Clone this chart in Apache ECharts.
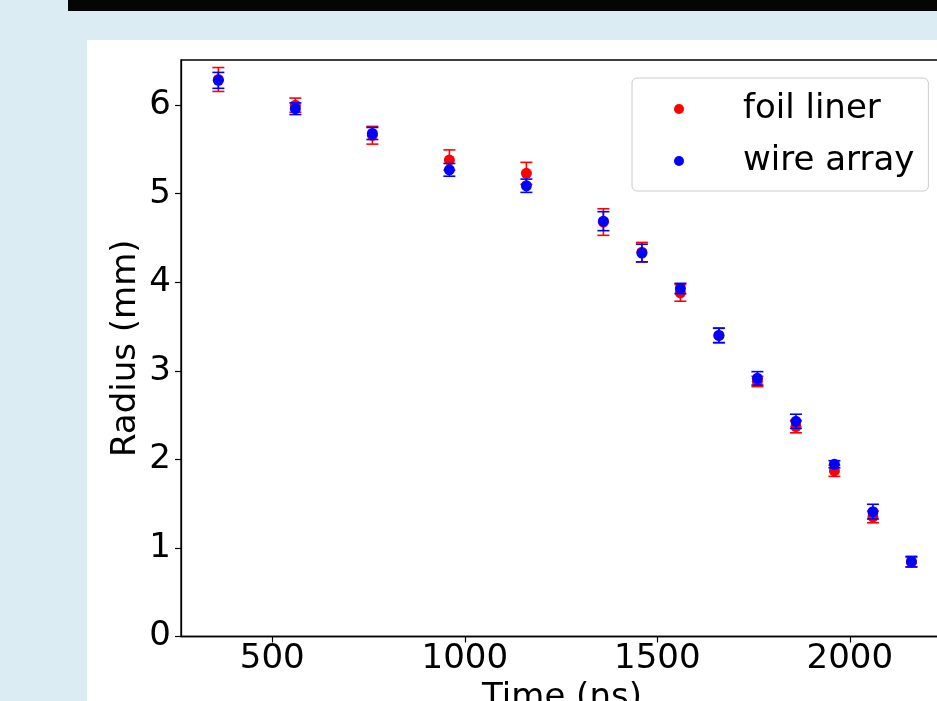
<!DOCTYPE html>
<html>
<head>
<meta charset="utf-8">
<script src="https://cdn.jsdelivr.net/npm/echarts@6/dist/echarts.min.js"></script>
<style>
html,body{margin:0;padding:0;background:#dbedf3;}
#c{width:937px;height:701px;}
</style>
</head>
<body>
<div id="c"></div>
<script>
const times = [360, 560, 760, 960, 1160, 1360, 1460, 1560, 1660, 1760, 1860, 1960, 2060, 2160];
const foilRadius = [6.29, 6.00, 5.66, 5.38, 5.23, 4.68, 4.34, 3.88, 3.40, 2.88, 2.37, 1.87, 1.35, 0.84];
const foilErr = [0.135, 0.08, 0.10, 0.115, 0.124, 0.15, 0.11, 0.094, 0.085, 0.058, 0.07, 0.062, 0.066, 0.053];
const wireRadius = [6.28, 5.96, 5.68, 5.27, 5.09, 4.69, 4.33, 3.93, 3.40, 2.915, 2.43, 1.945, 1.41, 0.845];
const wireErr = [0.09, 0.066, 0.068, 0.072, 0.075, 0.107, 0.10, 0.058, 0.08, 0.076, 0.08, 0.04, 0.083, 0.06];
const xTicks = [500, 1000, 1500, 2000];
const yTicks = [0, 1, 2, 3, 4, 5, 6];
const seriesNames = ['foil liner', 'wire array'];

const FONT = 'DejaVu Sans';
const chart = echarts.init(document.getElementById('c'), null, {renderer: 'canvas'});

function errData(vals, errs) {
  return times.map((t, i) => [t, vals[i] - errs[i], vals[i] + errs[i]]);
}
function errRender(color) {
  return function (params, api) {
    const x = api.value(0);
    const lo = api.coord([x, api.value(1)]);
    const hi = api.coord([x, api.value(2)]);
    const cw = 6;
    const st = {stroke: color, lineWidth: 1.6};
    return {
      type: 'group',
      children: [
        {type: 'line', shape: {x1: hi[0], y1: hi[1], x2: lo[0], y2: lo[1]}, style: st},
        {type: 'line', shape: {x1: hi[0] - cw, y1: hi[1], x2: hi[0] + cw, y2: hi[1]}, style: st},
        {type: 'line', shape: {x1: lo[0] - cw, y1: lo[1], x2: lo[0] + cw, y2: lo[1]}, style: st}
      ]
    };
  };
}

const option = {
  backgroundColor: '#dbedf3',
  animation: false,
  graphic: [
    {type: 'rect', z: -10, shape: {x: 68, y: 0, width: 869, height: 11}, style: {fill: '#050505'}},
    {type: 'rect', z: -10, shape: {x: 87, y: 40, width: 850, height: 661}, style: {fill: '#ffffff'}}
  ],
  grid: {
    left: 181, top: 60, right: -6, bottom: 64.5,
    outerBoundsMode: 'none', containLabel: false,
    show: true, backgroundColor: '#ffffff', borderColor: '#000000', borderWidth: 1.3
  },
  legend: {
    data: seriesNames,
    orient: 'vertical',
    left: 632, top: 78,
    padding: [11, 14, 10, 42],
    itemGap: 12,
    itemWidth: 10, itemHeight: 10,
    icon: 'circle',
    backgroundColor: 'rgba(255,255,255,0.8)',
    borderColor: '#cccccc', borderWidth: 1, borderRadius: 5,
    textStyle: {fontFamily: FONT, fontSize: 34, lineHeight: 40, color: '#000', padding: [0, 0, 0, 54]}
  },
  xAxis: {
    type: 'value', min: 263, max: 2242,
    name: 'Time (ns)', nameLocation: 'middle', nameGap: 45, nameMoveOverlap: false,
    nameTextStyle: {fontFamily: FONT, fontSize: 34, color: '#000'},
    axisLine: {show: true, onZero: false, lineStyle: {color: '#000', width: 1.3}},
    axisTick: {show: true, length: 6, lineStyle: {color: '#000', width: 1.2}, customValues: xTicks},
    axisLabel: {fontFamily: FONT, fontSize: 34, color: '#000', margin: 6, customValues: xTicks,
      formatter: v => String(v)},
    splitLine: {show: false}
  },
  yAxis: {
    type: 'value', min: 0, max: 6.51,
    name: 'Radius (mm)', nameLocation: 'middle', nameGap: 38, nameMoveOverlap: false,
    nameTextStyle: {fontFamily: FONT, fontSize: 34, color: '#000'},
    axisLine: {show: true, lineStyle: {color: '#000', width: 1.3}},
    axisTick: {show: true, length: 6, lineStyle: {color: '#000', width: 1.2}, customValues: yTicks},
    axisLabel: {fontFamily: FONT, fontSize: 34, color: '#000', margin: 10, customValues: yTicks,
      formatter: v => String(v)},
    splitLine: {show: false}
  },
  series: [
    {
      name: 'foil liner err', type: 'custom', renderItem: errRender('#ff0000'),
      data: errData(foilRadius, foilErr), encode: {x: 0, y: [1, 2]}, z: 2
    },
    {
      name: seriesNames[0], type: 'scatter', symbol: 'circle', symbolSize: 11,
      itemStyle: {color: '#ff0000', opacity: 1}, z: 3,
      data: times.map((t, i) => [t, foilRadius[i]])
    },
    {
      name: 'wire array err', type: 'custom', renderItem: errRender('#0000ff'),
      data: errData(wireRadius, wireErr), encode: {x: 0, y: [1, 2]}, z: 4
    },
    {
      name: seriesNames[1], type: 'scatter', symbol: 'circle', symbolSize: 11,
      itemStyle: {color: '#0000ff', opacity: 1}, z: 5,
      data: times.map((t, i) => [t, wireRadius[i]])
    }
  ]
};
chart.setOption(option);
</script>
</body>
</html>
